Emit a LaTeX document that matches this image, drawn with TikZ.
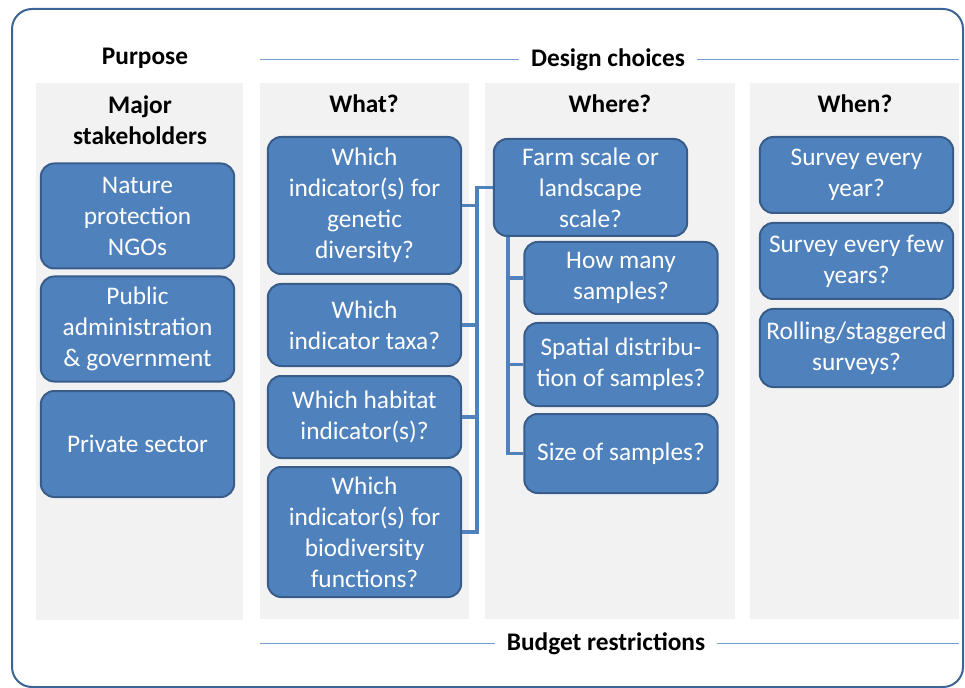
\documentclass[tikz,border=0pt]{standalone}
\usepackage{fontspec}
\setmainfont{Carlito}
\usepackage{tikz}

\definecolor{boxblue}{HTML}{4F81BD}
\definecolor{boxedge}{HTML}{385D8A}
\definecolor{frameblue}{HTML}{3E6496}
\definecolor{ruleblue}{HTML}{779DCC}
\definecolor{panelgray}{HTML}{F2F2F2}

\newcommand\qfont{\fontsize{19}{23.25}\selectfont}

\tikzset{
	qbox/.style={draw=boxedge, fill=boxblue, line width=1.5pt, rounded corners=10pt,
		text=white, align=center, inner sep=0pt, minimum width=145pt},
	head/.style={font=\qfont\bfseries, align=center, inner sep=9pt},
	rule/.style={draw=ruleblue, line width=1.1pt},
	link/.style={draw=boxblue, line width=2.6pt},
}

\begin{document}
\begin{tikzpicture}[x=0.75pt, y=-0.75pt, every node/.append style={font=\qfont}]
		\useasboundingbox (0,0) rectangle (965,688);
		\draw[frameblue, line width=1.5pt, rounded corners=15pt] (12,9) rectangle (963,687);

		% grey columns
		\fill[panelgray] (36,83) rectangle (243,620);
		\fill[panelgray] (260,83) rectangle (469,619);
		\fill[panelgray] (485,83) rectangle (735,619);
		\fill[panelgray] (750,83) rectangle (959,619);

		% top and bottom headings
		\coordinate (ruleleft) at (260,0);
		\coordinate (ruleright) at (959,0);
		\node (purpose) at (145,58.5) [head] {Purpose};
		\node (design) at (608,59.5) [head] {Design choices};
		\node (budget) at (606,643.5) [head] {Budget restrictions};
		\draw[rule] (ruleleft |- design.west) -- (design.west);
		\draw[rule] (design.east) -- (ruleright |- design.east);
		\draw[rule] (ruleleft |- budget.west) -- (budget.west);
		\draw[rule] (budget.east) -- (ruleright |- budget.east);

		\node (stake) at (140,120) [head, inner sep=0pt] {Major\\stakeholders};
		\node (what) at (364,104) [head, inner sep=0pt] {What?};
		\node (where) at (610,104) [head, inner sep=0pt] {Where?};
		\node (when) at (855,104) [head, inner sep=0pt] {When?};

		% stakeholders
		\node (ngo) at (137.5,216) [qbox, minimum height=78.75pt] {Nature\\protection\\NGOs};
		\node (admin) at (137.5,329) [qbox, minimum height=78.75pt] {Public\\administration\\\& government};
		\node (private) at (137.5,444) [qbox, minimum height=79.5pt] {Private sector};

		% what
		\node (genetic) at (364.5,205.5) [qbox, minimum height=102.75pt] {Which\\indicator(s) for\\genetic\\diversity?};
		\node (taxa) at (364.5,325) [qbox, minimum height=61.5pt] {Which\\indicator taxa?};
		\node (habitat) at (364.5,417) [qbox, minimum height=61.5pt] {Which habitat\\indicator(s)?};
		\node (functions) at (364.5,532) [qbox, minimum height=97.5pt] {Which\\indicator(s) for\\biodiversity\\functions?};

		% where
		\node (farm) at (590.5,187.5) [qbox, minimum height=72.75pt] {Farm scale or\\landscape\\scale?};
		\node (howmany) at (621,278) [qbox, minimum height=54pt] {How many\\samples?};
		\node (spatial) at (621,364.5) [qbox, minimum height=62.25pt] {Spatial distribu-\\tion of samples?};
		\node (size) at (621,453.5) [qbox, minimum height=59.25pt] {Size of samples?};

		% when
		\node (year) at (856.5,175) [qbox, minimum height=57pt] {Survey every\\year?};
		\node (fewyears) at (856.5,261) [qbox, minimum height=57pt] {Survey every few\\years?};
		\node (rolling) at (856.5,348) [qbox, minimum height=58.5pt] {Rolling/staggered\\surveys?};

		% tree lines
		\coordinate (bus) at (477,0);
		\coordinate (trunk) at (508,0);
		\draw[link] (farm.west) -| (bus |- functions.east) -- (functions.east);
		\draw[link] (genetic.east) -- (genetic.east -| bus);
		\draw[link] (taxa.east) -- (taxa.east -| bus);
		\draw[link] (habitat.east) -- (habitat.east -| bus);
		\draw[link] (farm.south -| trunk) |- (size.west);
		\draw[link] (howmany.west) -- (howmany.west -| trunk);
		\draw[link] (spatial.west) -- (spatial.west -| trunk);
	\end{tikzpicture}
\end{document}
